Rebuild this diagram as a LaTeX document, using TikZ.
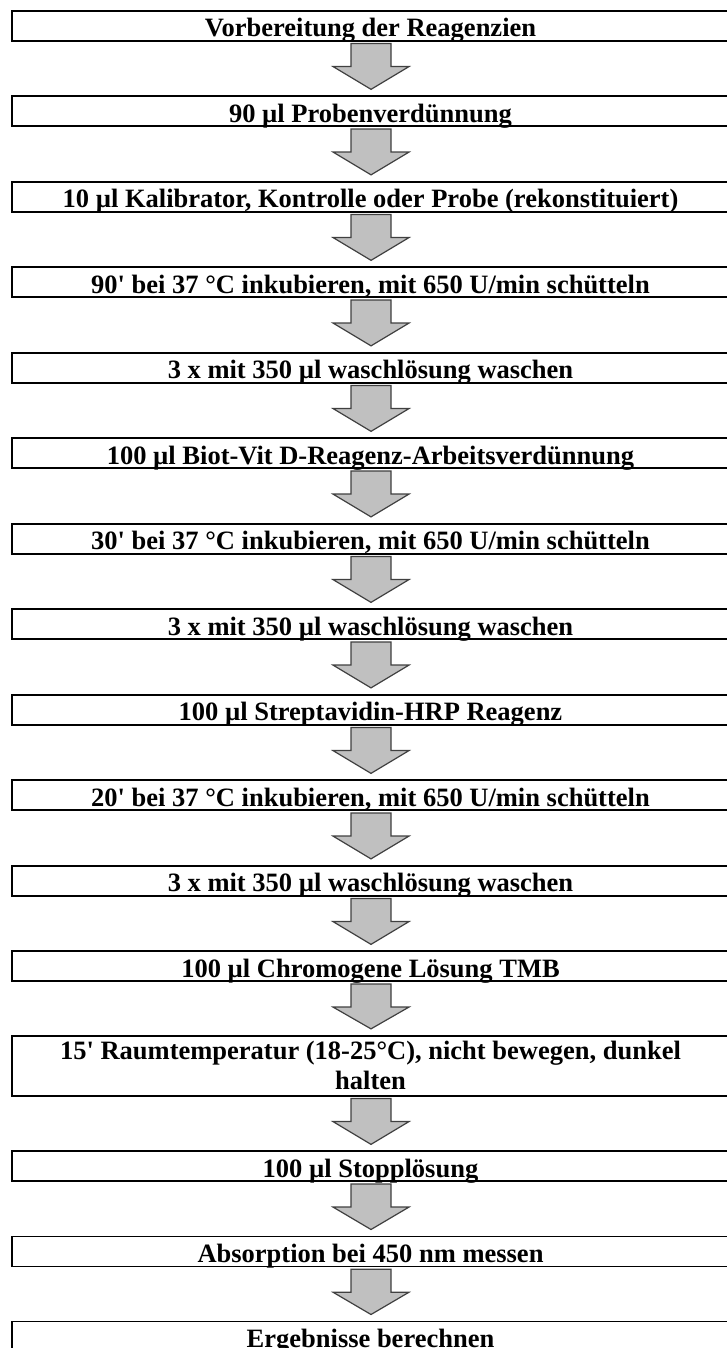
\documentclass[tikz,border=0pt]{standalone}
\usepackage{fontspec}
\newfontfamily\stepfont{Liberation Serif}
\usetikzlibrary{calc,backgrounds}
\definecolor{arrowgray}{RGB}{192,192,192}
\definecolor{arrowedge}{RGB}{64,64,64}
\tikzset{
  stepbox/.style={rectangle, draw=black, line width=1.7pt, inner sep=0pt,
    minimum width=716.4pt, text height=25.85pt, text depth=4.15pt, anchor=north,
    font=\stepfont\bfseries\fontsize{26.5}{30}\selectfont},
  tallbox/.style={stepbox, text height=23.45pt, text depth=36.55pt},
  blockarrow/.style={fill=arrowgray, draw=arrowedge, line width=1.2pt, line join=miter}
}
\newcommand\flowarrow[2]{%
  \draw[blockarrow] ($(#1.south)+(-19.5,2)$) -- ($(#1.south)+(20.5,2)$)
    -- ($(#1.south)+(20.5,25)$) -- ($(#1.south)+(38.5,25)$)
    -- ($(#2.north)+(0.5,-6)$)
    -- ($(#1.south)+(-37.5,25)$) -- ($(#1.south)+(-19.5,25)$) -- cycle;}
\begin{document}
\begin{tikzpicture}[x=1pt,y=-1pt]
\useasboundingbox (0,0) rectangle (726,1348);
\node[stepbox] (b1) at (370.5,9.85) {Vorbereitung der Reagenzien};
\node[stepbox] (b2) at (370.5,95.35) {90 µl Probenverdünnung};
\node[stepbox] (b3) at (370.5,180.85) {10 µl Kalibrator, Kontrolle oder Probe (rekonstituiert)};
\node[stepbox] (b4) at (370.5,266.35) {90' bei 37 °C inkubieren, mit 650 U/min schütteln};
\node[stepbox] (b5) at (370.5,351.85) {3 x mit 350 µl waschlösung waschen};
\node[stepbox] (b6) at (370.5,437.35) {100 µl Biot-Vit D-Reagenz-Arbeitsverdünnung};
\node[stepbox] (b7) at (370.5,522.85) {30' bei 37 °C inkubieren, mit 650 U/min schütteln};
\node[stepbox] (b8) at (370.5,608.35) {3 x mit 350 µl waschlösung waschen};
\node[stepbox] (b9) at (370.5,693.85) {100 µl Streptavidin-HRP Reagenz};
\node[stepbox] (b10) at (370.5,779.35) {20' bei 37 °C inkubieren, mit 650 U/min schütteln};
\node[stepbox] (b11) at (370.5,864.85) {3 x mit 350 µl waschlösung waschen};
\node[stepbox] (b12) at (370.5,950.35) {100 µl Chromogene Lösung TMB};
\node[tallbox] (b13) at (370.5,1034.85) {\begin{tabular}[t]{@{}c@{}}15' Raumtemperatur (18-25°C), nicht bewegen, dunkel\\halten\end{tabular}};
\node[stepbox] (b14) at (370.5,1150.35) {100 µl Stopplösung};
\node[stepbox] (b15) at (370.5,1235.5) {Absorption bei 450 nm messen};
\node[stepbox] (b16) at (370.5,1320.5) {Ergebnisse berechnen};
\begin{scope}[on background layer]
\flowarrow{b1}{b2}
\flowarrow{b2}{b3}
\flowarrow{b3}{b4}
\flowarrow{b4}{b5}
\flowarrow{b5}{b6}
\flowarrow{b6}{b7}
\flowarrow{b7}{b8}
\flowarrow{b8}{b9}
\flowarrow{b9}{b10}
\flowarrow{b10}{b11}
\flowarrow{b11}{b12}
\flowarrow{b12}{b13}
\flowarrow{b13}{b14}
\flowarrow{b14}{b15}
\flowarrow{b15}{b16}
\end{scope}
\end{tikzpicture}
\end{document}
